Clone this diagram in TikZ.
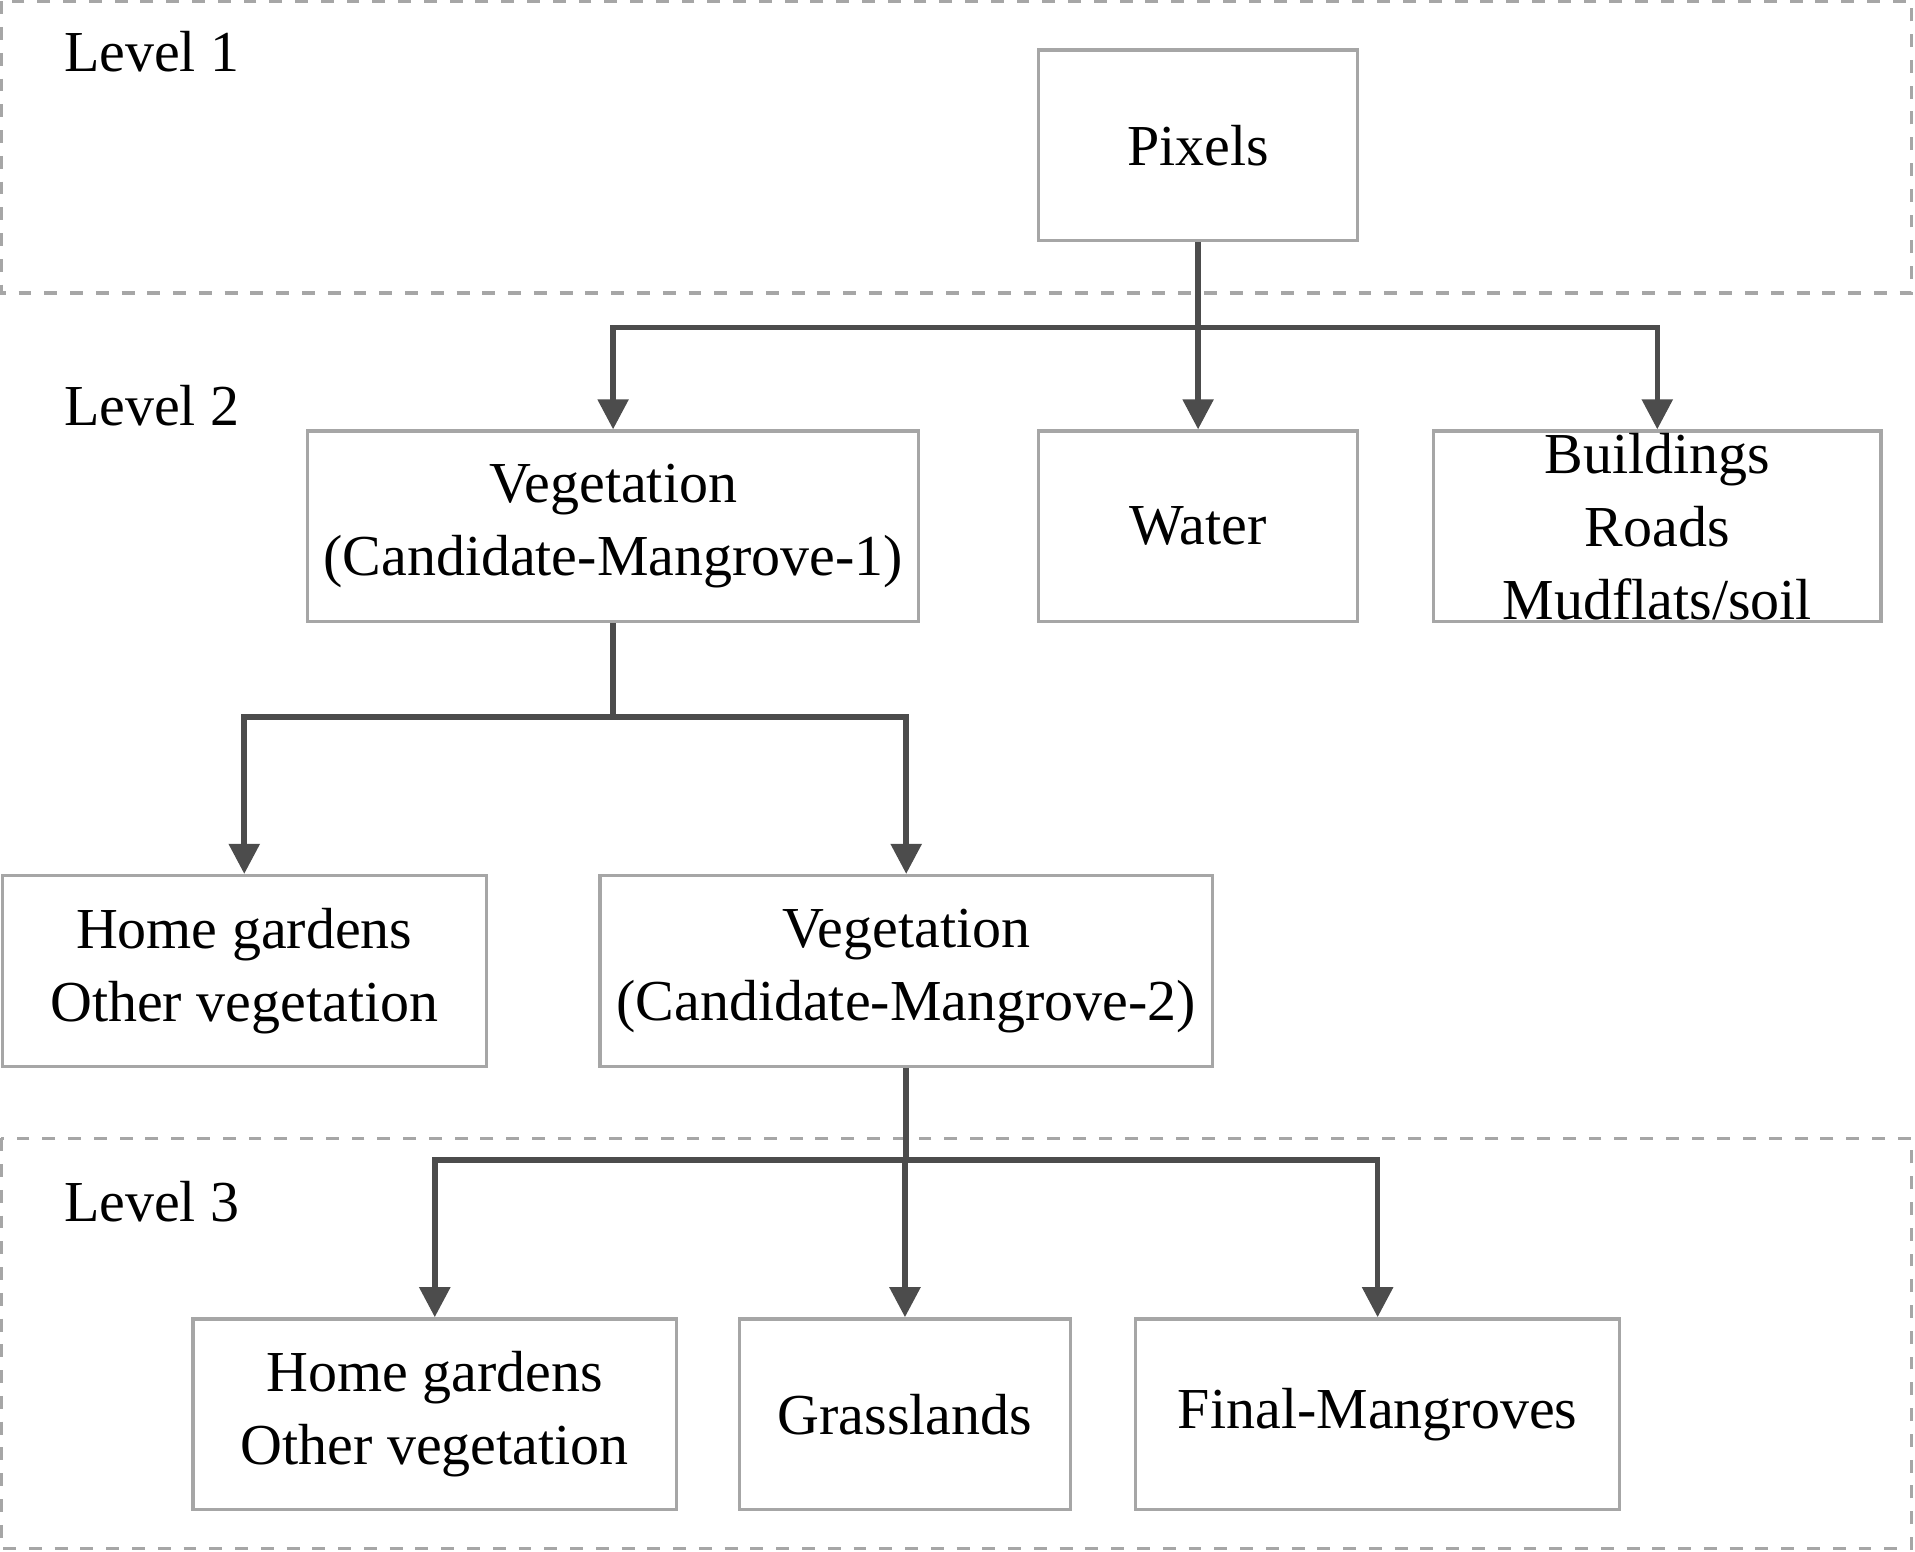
\documentclass[tikz,border=0pt]{standalone}
\usepackage{fontspec}
\setmainfont{Liberation Serif}
\usetikzlibrary{arrows.meta}

\begin{document}
\begin{tikzpicture}[x=0.01cm, y=-0.01cm,
	box/.style={draw=black!35, line width=0.8pt, minimum height=1.56cm, align=center, inner sep=0pt, font=\fontsize{13.5}{17}\selectfont},
	level/.style={draw=black!35, dashed, line width=0.8pt},
	lab/.style={anchor=west, font=\fontsize{13.5}{17}\selectfont},
	conn/.style={draw=black!70, line width=1.3pt},
	arr/.style={conn, -{Triangle[length=7pt, width=7pt]}}]
			\useasboundingbox (0,0) rectangle (1568,1270);
			\draw[level] (1,1) rectangle (1565,240);
			\draw[level] (1,932) rectangle (1565,1268);
			\node[lab] (l1) at (40,42) {Level 1};
			\node[lab] (l2) at (40,332) {Level 2};
			\node[lab] (l3) at (40,984) {Level 3};
			
			\node[box, minimum width=2.61cm] (pix) at (981,119) {Pixels};
			\node[box, minimum width=5cm] (veg1) at (502,431) {Vegetation\\(Candidate-Mangrove-1)};
			\node[box, minimum width=2.61cm] (wat) at (981,431) {Water};
			\node[box, minimum width=3.66cm] (bld) at (1357,431) {Buildings\\Roads\\Mudflats/soil};
			\node[box, minimum width=3.96cm] (hg1) at (200,795) {Home gardens\\Other vegetation};
			\node[box, minimum width=5.01cm] (veg2) at (742,795) {Vegetation\\(Candidate-Mangrove-2)};
			\node[box, minimum width=3.96cm] (hg2) at (356,1158) {Home gardens\\Other vegetation};
			\node[box, minimum width=2.71cm] (gra) at (741,1158) {Grasslands};
			\node[box, minimum width=3.96cm] (fin) at (1128,1158) {Final-Mangroves};
			
			\coordinate (j1) at (981,268);
			\coordinate (j2) at (502,587);
			\coordinate (j3) at (742,950);
			
			\path[conn] (pix) -- (j1);
			\path[arr] (j1) -| (veg1);
			\path[arr] (j1) -- (wat);
			\path[arr] (j1) -| (bld);
			\path[conn] (veg1) -- (j2);
			\path[arr] (j2) -| (hg1);
			\path[arr] (j2) -| (veg2);
			\path[conn] (veg2) -- (j3);
			\path[arr] (j3) -| (hg2);
			\path[arr] (j3) -| (gra);
			\path[arr] (j3) -| (fin);
		\end{tikzpicture}
\end{document}
